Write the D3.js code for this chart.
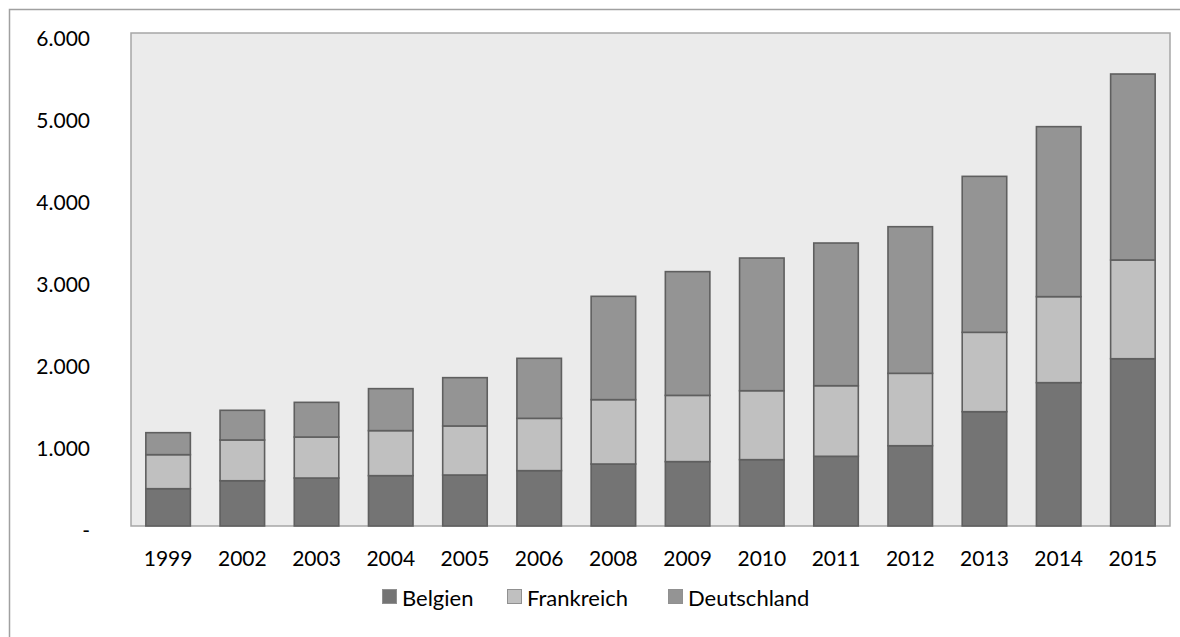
<!DOCTYPE html>
<html>
<head>
<meta charset="utf-8">
<script src="https://cdn.jsdelivr.net/npm/d3@7"></script>
<style>
  body { margin: 0; background: #fff; }
  svg { display: block; font-family: Lato, "Open Sans", sans-serif; }
</style>
</head>
<body>
<svg id="chart" width="1180" height="637"></svg>
<script>
const YEARS = ["1999", "2002", "2003", "2004", "2005", "2006", "2008", "2009", "2010", "2011", "2012", "2013", "2014", "2015"];
const SERIES = ["Belgien", "Frankreich", "Deutschland"];
const belgien     = [455, 552, 585, 614, 622, 675, 756, 785, 809, 850, 979, 1394, 1748, 2040];
const frankreich  = [415, 497, 500, 549, 598, 638, 785, 808, 841, 861, 883, 968, 1049, 1204];
const deutschland = [268, 362, 423, 512, 589, 732, 1260, 1509, 1618, 1740, 1788, 1902, 2073, 2268];
const Y_TICKS = [0, 1000, 2000, 3000, 4000, 5000, 6000];

const COLORS = { Belgien: "#747474", Frankreich: "#c0c0c0", Deutschland: "#949494" };
const FONT_SIZE = 21;

const rows = YEARS.map((y, i) => ({
  year: y,
  Belgien: belgien[i],
  Frankreich: frankreich[i],
  Deutschland: deutschland[i],
}));

const svg = d3.select("#chart");
const plot = { left: 131, top: 33, right: 1170, bottom: 526 };

// outer chart frame (runs off the picture on the right and bottom)
svg.append("rect")
  .attr("x", 9.5).attr("y", 9.5)
  .attr("width", 1200).attr("height", 700)
  .attr("fill", "#fff")
  .attr("stroke", "#a0a0a0")
  .attr("stroke-width", 1.5);

// plot area
svg.append("rect")
  .attr("x", plot.left).attr("y", plot.top)
  .attr("width", plot.right - plot.left).attr("height", plot.bottom - plot.top)
  .attr("fill", "#ebebeb")
  .attr("stroke", "#a6a6a6")
  .attr("stroke-width", 1.5);

const xScale = d3.scaleBand()
  .domain(YEARS)
  .range([plot.left, plot.right])
  .paddingInner(0.4)
  .paddingOuter(0.2);

const yScale = d3.scaleLinear()
  .domain([0, 6000])
  .range([plot.bottom, plot.top + 1]);

const de = d3.formatLocale({ decimal: ",", thousands: ".", grouping: [3], currency: ["", " €"] });
const fmt = de.format(",");

const series = d3.stack().keys(SERIES)(rows);

svg.append("g")
  .selectAll("g")
  .data(series)
  .enter()
  .append("g")
  .attr("fill", d => COLORS[d.key])
  .selectAll("rect")
  .data(d => d)
  .enter()
  .append("rect")
  .attr("x", d => xScale(d.data.year))
  .attr("y", d => yScale(d[1]))
  .attr("width", xScale.bandwidth())
  .attr("height", d => yScale(d[0]) - yScale(d[1]))
  .attr("stroke", "#5f5f5f")
  .attr("stroke-width", 1.6);

// y axis labels
const yAxis = svg.append("g")
  .attr("transform", `translate(90,0)`)
  .call(d3.axisLeft(yScale).tickValues(Y_TICKS).tickSize(0).tickPadding(0)
    .tickFormat(d => d === 0 ? "-" : fmt(d)));
yAxis.select(".domain").remove();
yAxis.selectAll("text")
  .attr("font-family", "Lato, 'Open Sans', sans-serif")
  .attr("font-size", FONT_SIZE)
  .attr("fill", "#000")
  .attr("dy", "0.53em");

// x axis labels
const xAxis = svg.append("g")
  .attr("transform", `translate(0,${plot.bottom})`)
  .call(d3.axisBottom(xScale).tickSize(0).tickPadding(25));
xAxis.select(".domain").remove();
xAxis.selectAll("text")
  .attr("font-family", "Lato, 'Open Sans', sans-serif")
  .attr("font-size", FONT_SIZE)
  .attr("fill", "#000");

// legend
const legendX = [382, 507, 668];
const legend = svg.append("g");
SERIES.forEach((s, i) => {
  const g = legend.append("g").attr("transform", `translate(${legendX[i]},606)`);
  g.append("rect")
    .attr("x", 0.5).attr("y", -16.5)
    .attr("width", 14).attr("height", 14)
    .attr("fill", COLORS[s])
    .attr("stroke", "#909090")
    .attr("stroke-width", 1);
  g.append("text")
    .attr("x", 20).attr("y", 0)
    .attr("font-size", 22)
    .attr("fill", "#000")
    .text(s);
});
</script>
</body>
</html>
